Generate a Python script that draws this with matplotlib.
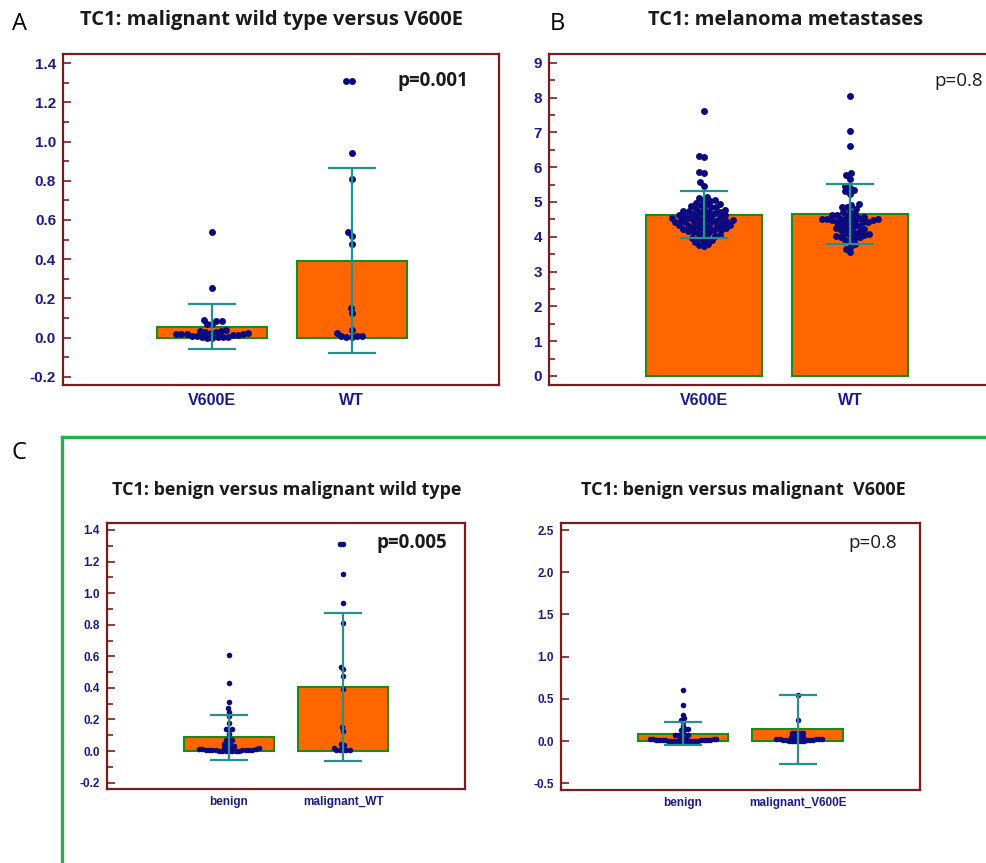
import numpy as np
import matplotlib
matplotlib.use("Agg")
import matplotlib.pyplot as plt
from matplotlib.lines import Line2D
from matplotlib.ticker import MultipleLocator, FormatStrFormatter

W, H = 987, 863

# ---- panel A: malignant wild type versus V600E ----
a_groups = ["V600E", "WT"]
a_means = [0.056, 0.393]
a_err_hi = [0.170, 0.864]
a_err_lo = [-0.057, -0.078]
a_v600e = [0.54, 0.255, 0.09, 0.087, 0.085, 0.071, 0.068, 0.04, 0.035, 0.033,
           0.03, 0.028, 0.025, 0.022, 0.02, 0.02, 0.018, 0.018, 0.015, 0.012,
           0.01, 0.008, 0.006, 0.005, 0.003, 0.002, 0.001, 0.0]
a_wt = [1.31, 1.31, 0.94, 0.81, 0.54, 0.52, 0.48, 0.15, 0.124, 0.04,
        0.022, 0.008, 0.008, 0.007, 0.006, 0.005]

# ---- panel B: melanoma metastases ----
b_groups = ["V600E", "WT"]
b_means = [4.63, 4.65]
b_err_hi = [5.30, 5.52]
b_err_lo = [3.96, 3.78]
b_v600e = [7.60, 6.33, 6.30, 5.85, 5.84, 5.56, 5.47, 5.15, 5.12, 5.05,
           5.05, 5.03, 4.98, 4.95, 4.93, 4.92, 4.88, 4.86, 4.85, 4.81,
           4.80, 4.78, 4.75, 4.74, 4.72, 4.71, 4.70, 4.67, 4.66, 4.65,
           4.62, 4.62, 4.60, 4.58, 4.57, 4.55, 4.55, 4.53, 4.52, 4.50,
           4.48, 4.47, 4.46, 4.45, 4.44, 4.43, 4.42, 4.41, 4.40, 4.38,
           4.36, 4.35, 4.33, 4.32, 4.30, 4.29, 4.28, 4.26, 4.25, 4.23,
           4.22, 4.20, 4.19, 4.17, 4.15, 4.13, 4.11, 4.08, 4.06, 4.03,
           4.00, 3.97, 3.95, 3.91, 3.88, 3.85, 3.80, 3.76, 3.72]
b_wt = [8.03, 7.03, 6.62, 5.82, 5.76, 5.66, 5.45, 5.40, 5.33, 5.30,
        5.24, 4.93, 4.92, 4.85, 4.84, 4.80, 4.72, 4.70, 4.66, 4.63,
        4.62, 4.60, 4.58, 4.55, 4.54, 4.52, 4.51, 4.50, 4.50, 4.48,
        4.47, 4.45, 4.44, 4.42, 4.42, 4.41, 4.40, 4.35, 4.32, 4.30,
        4.28, 4.25, 4.22, 4.20, 4.18, 4.15, 4.12, 4.10, 4.08, 4.06,
        4.05, 4.02, 4.00, 3.98, 3.95, 3.92, 3.88, 3.80, 3.72, 3.66, 3.56]

# ---- panel C: benign versus malignant wild type ----
c_groups = ["benign", "malignant_WT"]
c_means = [0.089, 0.407]
c_err_hi = [0.228, 0.875]
c_err_lo = [-0.055, -0.061]
benign = [0.61, 0.43, 0.31, 0.27, 0.25, 0.22, 0.175, 0.14, 0.137, 0.135,
          0.11, 0.07, 0.07, 0.068, 0.045, 0.042, 0.04, 0.03, 0.025, 0.02,
          0.02, 0.018, 0.015, 0.015, 0.012, 0.01, 0.01, 0.008, 0.007, 0.006,
          0.005, 0.005, 0.004, 0.003, 0.003, 0.002, 0.002, 0.001, 0.001, 0.0]
c_wt = [1.31, 1.31, 1.12, 0.94, 0.81, 0.535, 0.52, 0.475, 0.39, 0.15,
        0.13, 0.045, 0.04, 0.025, 0.02, 0.008, 0.007, 0.006, 0.005, 0.005]

# ---- panel D: benign versus malignant V600E ----
d_groups = ["benign", "malignant_V600E"]
d_means = [0.088, 0.137]
d_err_hi = [0.225, 0.55]
d_err_lo = [-0.05, -0.276]
d_v600e = [0.54, 0.25, 0.10, 0.095, 0.095, 0.09, 0.075, 0.05, 0.045, 0.04,
           0.04, 0.035, 0.03, 0.03, 0.025, 0.02, 0.02, 0.015, 0.015, 0.01,
           0.01, 0.008, 0.005, 0.005, 0.003, 0.002, 0.0, 0.0]

BAR = "#ff6600"
BAR_EDGE = "#1a8a1a"
ERR = "#26908f"
DOT = "#0a0a80"
FRAME = "#7b1c1c"
TICKLAB = "#1a1a8c"


def frac(x, y):
    return x / W, 1 - y / H


def box(left, top, right, bottom):
    return [left / W, 1 - bottom / H, (right - left) / W, (bottom - top) / H]


def beeswarm(ax, xc, vals, diam):
    # place dots side by side so they do not overlap too much (in pixels)
    disp = ax.transData.transform(np.column_stack([np.full(len(vals), xc), vals]))
    ys = disp[:, 1]
    placed = []
    dxs = np.zeros(len(vals))
    for i in np.argsort(ys, kind="stable"):
        y = ys[i]
        blocked = []
        for px, py in placed:
            dy = abs(y - py)
            if dy < diam:
                w = np.sqrt(diam ** 2 - dy ** 2)
                blocked.append((px - w, px + w))
        cands = [0.0] + [b for iv in blocked for b in iv]
        cands.sort(key=lambda c: (abs(c), c))
        dx = 0.0
        for c in cands:
            if all(not (lo + 1e-6 < c < hi - 1e-6) for lo, hi in blocked):
                dx = c
                break
        placed.append((dx, y))
        dxs[i] = dx
    scale = ax.transData.transform((1, 0))[0] - ax.transData.transform((0, 0))[0]
    return xc + dxs / scale


def panel(rect, groups, means, hi, lo, points, ylim, major, minor, fmt,
          xlim, ms, cap, tick_fs, xlab_fs, xpad, pack=0.7):
    ax = fig.add_axes(rect)
    ax.set_xlim(xlim)
    ax.set_ylim(ylim)
    xs = np.arange(1, len(groups) + 1)
    ax.bar(xs, means, width=0.79, color=BAR, edgecolor=BAR_EDGE, linewidth=1.5, zorder=1)
    diam = ms * fig.dpi / 72.0 * pack
    for x, vals in zip(xs, points):
        px = beeswarm(ax, x, vals, diam)
        ax.plot(px, vals, "o", ms=ms, color=DOT, mec=DOT, mew=0, zorder=2)
    means = np.array(means)
    yerr = [means - np.array(lo), np.array(hi) - means]
    ax.errorbar(xs, means, yerr=yerr, fmt="none", ecolor=ERR, elinewidth=1.6,
                capsize=cap, capthick=1.6, zorder=3)
    for s in ax.spines.values():
        s.set_color(FRAME)
        s.set_linewidth(1.6)
    ax.yaxis.set_major_locator(MultipleLocator(major))
    if minor:
        ax.yaxis.set_minor_locator(MultipleLocator(minor))
    ax.yaxis.set_major_formatter(FormatStrFormatter(fmt))
    ax.tick_params(axis="y", which="major", direction="in", length=6, width=1.2,
                   color=FRAME, labelsize=tick_fs, labelcolor=TICKLAB, pad=5)
    ax.tick_params(axis="y", which="minor", direction="in", length=4, width=1.2,
                   color=FRAME)
    for t in ax.get_yticklabels():
        t.set_fontfamily("Liberation Sans")
        t.set_fontweight("bold")
    ax.set_xticks(xs)
    ax.set_xticklabels(groups, fontfamily="Liberation Sans", fontweight="bold",
                       fontsize=xlab_fs, color=TICKLAB)
    ax.tick_params(axis="x", length=0, pad=xpad)
    return ax


fig = plt.figure(figsize=(W / 100, H / 100), dpi=100)

panel(box(63, 54, 499, 385), a_groups, a_means, a_err_hi, a_err_lo, [a_v600e, a_wt],
      (-0.241, 1.446), 0.2, 0.1, "%.1f", (-0.072, 3.058), 5.0, 17, 11, 11.5, 6, 0.75)
panel(box(549, 54, 1005, 385), b_groups, b_means, b_err_hi, b_err_lo, [b_v600e, b_wt],
      (-0.26, 9.25), 1, 0.5, "%d", (-0.06, 3.06), 5.0, 17, 11, 11.5, 6, 0.74)
panel(box(107, 523, 465, 789), c_groups, c_means, c_err_hi, c_err_lo, [benign, c_wt],
      (-0.24, 1.444), 0.2, 0.1, "%.1f", (-0.07, 3.07), 4.0, 14, 8.5, 8.5, 5, 0.6)
panel(box(561, 523, 920, 790), d_groups, d_means, d_err_hi, d_err_lo, [benign, d_v600e],
      (-0.58, 2.583), 0.5, None, "%.1f", (-0.064, 3.066), 4.0, 14, 8.5, 8.5, 5, 0.55)

# panel letters
for letter, (x, y) in [("A", (19, 24)), ("B", (557, 24)), ("C", (19, 453))]:
    fig.text(*frac(x, y), letter, fontsize=17, fontfamily="Open Sans",
             ha="center", va="center")

# titles
titles = [("TC1: malignant wild type versus V600E", 272, 20, 14.5),
          ("TC1: melanoma metastases", 786, 20, 14.5),
          ("TC1: benign versus malignant wild type", 287, 490, 13),
          ("TC1: benign versus malignant  V600E", 743, 490, 13)]
for txt, x, y, fs in titles:
    fig.text(*frac(x, y), txt, fontsize=fs, fontfamily="Open Sans",
             fontweight="bold", ha="center", va="center", color="#1a1a1a")

# p-values
pvals = [("p=0.001", 433, 81, "bold"), ("p=0.8", 959, 81, "normal"),
         ("p=0.005", 412, 543, "bold"), ("p=0.8", 873, 543, "normal")]
for txt, x, y, wt in pvals:
    fig.text(*frac(x, y), txt, fontsize=13.5, fontfamily="Open Sans",
             fontweight=wt, ha="center", va="center", color="#1a1a1a")

# green frame around the lower row
green = "#22b14c"
fig.add_artist(Line2D([62 / W, 1.0], [1 - 437 / H, 1 - 437 / H], color=green, lw=2.4))
fig.add_artist(Line2D([62 / W, 62 / W], [1 - 437 / H, 0.0], color=green, lw=2.4))

fig.savefig("out.png", dpi=100)
